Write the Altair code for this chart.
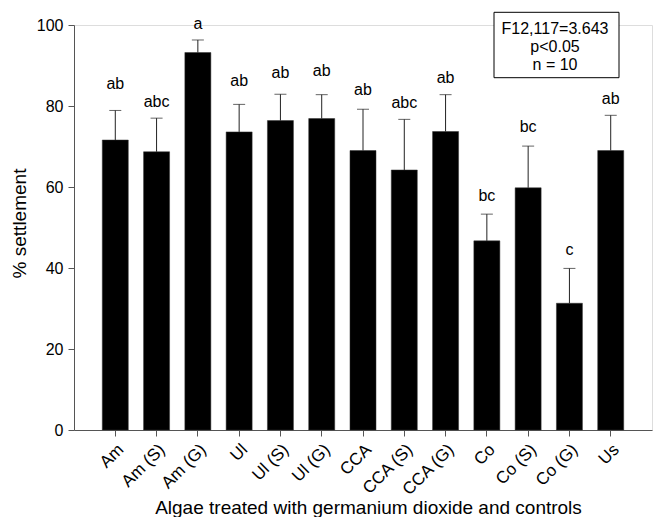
import altair as alt
import pandas as pd

categories = ["Am", "Am (S)", "Am (G)", "Ul", "Ul (S)", "Ul (G)", "CCA", "CCA (S)",
              "CCA (G)", "Co", "Co (S)", "Co (G)", "Us"]
means = [71.6, 68.7, 93.2, 73.6, 76.4, 76.9, 69.0, 64.2, 73.7, 46.7, 59.8, 31.3, 69.0]
upper = [78.9, 77.0, 96.3, 80.4, 82.9, 82.8, 79.2, 76.7, 82.8, 53.3, 70.1, 39.9, 77.7]
letters = ["ab", "abc", "a", "ab", "ab", "ab", "ab", "abc", "ab", "bc", "bc", "c", "ab"]
letter_y = [84.1, 79.8, 98.9, 85.0, 86.8, 87.5, 82.7, 79.4, 85.6, 56.6, 73.5, 43.2, 80.5]
stats_text = "F12,117=3.643\np<0.05\nn = 10"

df = pd.DataFrame({"cat": categories, "mean": means, "upper": upper,
                   "letter": letters, "ly": letter_y})

FONT = "Liberation Sans"

x = alt.X("cat:N", sort=categories,
          scale=alt.Scale(paddingInner=0.37, paddingOuter=0.685),
          axis=alt.Axis(title="Algae treated with germanium dioxide and controls",
                        labelAngle=-45, labelAlign="right", labelBaseline="top",
                        labelFontSize=17, labelFont=FONT, labelColor="black",
                        labelPadding=5, tickSize=6, tickColor="#555",
                        domainColor="#555", titleFontSize=19, titleFont=FONT,
                        titleFontWeight="normal", titleColor="black",
                        titleX=294, titleY=83, titleAlign="center",
                        titleBaseline="alphabetic", grid=False))

y = alt.Y("mean:Q", scale=alt.Scale(domain=[0, 100], nice=False),
          axis=alt.Axis(title="% settlement", values=[0, 20, 40, 60, 80, 100],
                        labelFontSize=16, labelFont=FONT, labelColor="black",
                        labelPadding=5, tickSize=6, tickColor="#555",
                        domainColor="#555", titleFontSize=19, titleFont=FONT,
                        titleFontWeight="normal", titleColor="black",
                        titleAngle=270, titleX=-55, titleY=198,
                        titleAlign="center", titleBaseline="middle", grid=False))

base = alt.Chart(df)

bars = base.mark_bar(color="black", stroke="#333", strokeWidth=0.5).encode(x=x, y=y)

err = base.mark_rule(color="#222", strokeWidth=1).encode(
    x=alt.X("cat:N", sort=categories), y="mean:Q", y2="upper:Q")

caps = base.mark_tick(color="#222", size=12, thickness=1, orient="horizontal").encode(
    x=alt.X("cat:N", sort=categories), y="upper:Q")

labels = base.mark_text(fontSize=16, font=FONT, baseline="alphabetic",
                        align="center", color="black").encode(
    x=alt.X("cat:N", sort=categories), y="ly:Q", text="letter:N")

box = alt.Chart(pd.DataFrame({"k": [0]})).mark_rect(
    fill="white", stroke="black", strokeWidth=1).encode(
    x=alt.value(420), x2=alt.value(545), y=alt.value(-12.7), y2=alt.value(52.7))

box_text = alt.Chart(pd.DataFrame({"t": [stats_text]})).mark_text(
    fontSize=16, font=FONT, align="center", baseline="alphabetic",
    lineBreak="\n", lineHeight=18, color="black").encode(
    x=alt.value(481), y=alt.value(9.3), text="t:N")

chart = alt.layer(bars, err, caps, labels, box, box_text).properties(
    width=578, height=405,
    autosize=alt.AutoSizeParams(type="none"),
    padding={"left": 74, "top": 25, "right": 1, "bottom": 87},
).configure_view(stroke=None).configure(background="white")

chart.save("out.html", embed_options={"renderer": "svg", "actions": False})
